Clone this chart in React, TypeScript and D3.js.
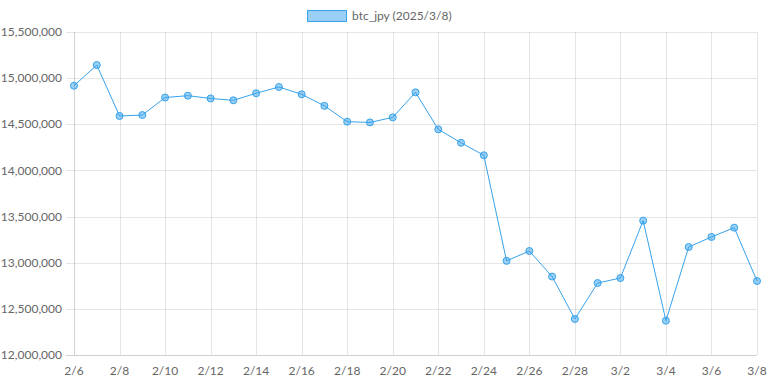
import { useEffect, useRef } from 'react'
import * as d3 from 'd3'

const dates = [
  '2/6', '2/7', '2/8', '2/9', '2/10', '2/11', '2/12', '2/13', '2/14', '2/15', '2/16',
  '2/17', '2/18', '2/19', '2/20', '2/21', '2/22', '2/23', '2/24', '2/25', '2/26', '2/27',
  '2/28', '3/1', '3/2', '3/3', '3/4', '3/5', '3/6', '3/7', '3/8',
]
const prices = [
  14918000, 15142000, 14590000, 14600000, 14790000, 14810000, 14780000, 14760000,
  14836000, 14904000, 14825000, 14700000, 14528000, 14520000, 14575000, 14846000,
  14445000, 14300000, 14164000, 13020000, 13127000, 12850000, 12390000, 12780000,
  12834000, 13456000, 12372000, 13170000, 13279000, 13380000, 12802000,
]
const yTicks = [12000000, 12500000, 13000000, 13500000, 14000000, 14500000, 15000000, 15500000]
const legendLabel = 'btc_jpy (2025/3/8)'

const W = 768
const H = 384

export default function App() {
  const ref = useRef<SVGSVGElement>(null)

  useEffect(() => {
    const el = ref.current
    if (!el) return
    const svg = d3.select(el)
    svg.selectAll('*').remove()

    const margin = { top: 32, right: 11, bottom: 29, left: 74 }
    const w = W - margin.left - margin.right
    const h = H - margin.top - margin.bottom
    const font = 'Lato, "Open Sans", sans-serif'

    const x = d3.scalePoint<string>().domain(dates).range([0, w])
    const y = d3.scaleLinear().domain([12000000, 15500000]).range([h, 0])
    const labelDates = dates.filter((_, i) => i % 2 === 0)

    const g = svg.append('g').attr('transform', `translate(${margin.left},${margin.top})`)

    // horizontal grid with small ticks on the left
    g.selectAll('line.hg')
      .data(yTicks)
      .join('line')
      .attr('class', 'hg')
      .attr('x1', -8)
      .attr('x2', w)
      .attr('y1', (d) => Math.round(y(d)) + 0.5)
      .attr('y2', (d) => Math.round(y(d)) + 0.5)
      .attr('stroke', (d) => (d === 12000000 ? 'rgba(0,0,0,0.18)' : 'rgba(0,0,0,0.1)'))

    // vertical grid every other day + right edge
    g.selectAll('line.vg')
      .data(labelDates)
      .join('line')
      .attr('class', 'vg')
      .attr('x1', (d) => Math.round(x(d)!) + 0.5)
      .attr('x2', (d) => Math.round(x(d)!) + 0.5)
      .attr('y1', 0)
      .attr('y2', h)
      .attr('stroke', (d, i) => (i === 0 ? 'rgba(0,0,0,0.18)' : 'rgba(0,0,0,0.1)'))

    g.selectAll('text.yl')
      .data(yTicks)
      .join('text')
      .attr('class', 'yl')
      .attr('x', -12)
      .attr('y', (d) => y(d))
      .attr('dy', '0.35em')
      .attr('text-anchor', 'end')
      .attr('font-family', font)
      .attr('font-size', 12)
      .attr('fill', '#666')
      .text((d) => d3.format(',')(d))

    g.selectAll('text.xl')
      .data(labelDates)
      .join('text')
      .attr('class', 'xl')
      .attr('x', (d) => x(d)!)
      .attr('y', h + 20)
      .attr('text-anchor', 'middle')
      .attr('font-family', font)
      .attr('font-size', 12)
      .attr('fill', '#666')
      .text((d) => d)

    const line = d3
      .line<number>()
      .x((_, i) => x(dates[i])!)
      .y((d) => y(d))

    g.append('path')
      .datum(prices)
      .attr('d', line)
      .attr('fill', 'none')
      .attr('stroke', '#36a2eb')
      .attr('stroke-width', 1)

    g.selectAll('circle.pt')
      .data(prices)
      .join('circle')
      .attr('class', 'pt')
      .attr('cx', (_, i) => x(dates[i])!)
      .attr('cy', (d) => y(d))
      .attr('r', 3.5)
      .attr('fill', 'rgba(54,162,235,0.5)')
      .attr('stroke', '#36a2eb')
      .attr('stroke-width', 1)

    // legend
    const lg = svg.append('g').attr('transform', 'translate(307,10)')
    lg.append('rect')
      .attr('x', 0.5)
      .attr('y', 0.5)
      .attr('width', 39)
      .attr('height', 11)
      .attr('fill', 'rgba(54,162,235,0.5)')
      .attr('stroke', '#36a2eb')
      .attr('stroke-width', 1)
    lg.append('text')
      .attr('x', 45)
      .attr('y', 6)
      .attr('dy', '0.35em')
      .attr('font-family', font)
      .attr('font-size', 12)
      .attr('fill', '#666')
      .text(legendLabel)
  }, [])

  return (
    <svg
      ref={ref}
      width={W}
      height={H}
      style={{ position: 'absolute', left: 0, top: 0, background: '#fff' }}
    />
  )
}
